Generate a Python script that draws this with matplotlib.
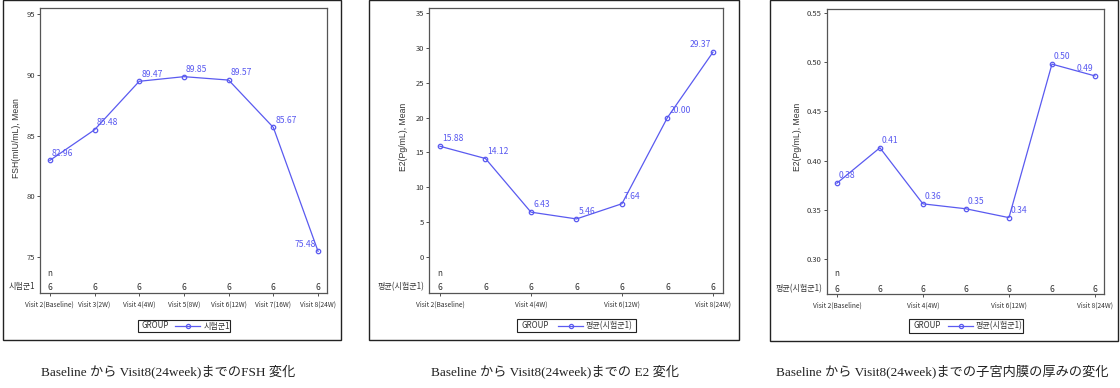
import matplotlib
matplotlib.use("Agg")
import matplotlib.pyplot as plt
import matplotlib.transforms as mtransforms
from matplotlib.lines import Line2D
from matplotlib.patches import Rectangle

W, H = 1120, 388

# ---- data ----
visits = ["Visit 2(Baseline)", "Visit 3(2W)", "Visit 4(4W)", "Visit 5(8W)",
          "Visit 6(12W)", "Visit 7(16W)", "Visit 8(24W)"]
n_counts = [6, 6, 6, 6, 6, 6, 6]
fsh_mean = [82.96, 85.48, 89.47, 89.85, 89.57, 85.67, 75.48]
e2_mean = [15.88, 14.12, 6.43, 5.46, 7.64, 20.00, 29.37]
endo_mean = [0.377, 0.413, 0.356, 0.351, 0.342, 0.498, 0.486]

fsh_ticks = [75, 80, 85, 90, 95]
e2_ticks = [0, 5, 10, 15, 20, 25, 30, 35]
endo_ticks = [0.30, 0.35, 0.40, 0.45, 0.50, 0.55]

captions = ["Baseline から Visit8(24week)までのFSH 変化",
            "Baseline から Visit8(24week)までの E2 変化",
            "Baseline から Visit8(24week)までの子宮内膜の厚みの変化"]

BLUE = "#5a5af0"
DARK = "#333333"
NARROW = ["Liberation Sans Narrow", "Noto Sans CJK KR", "DejaVu Sans"]
SANS = ["Liberation Sans", "Noto Sans CJK KR", "DejaVu Sans"]
SERIF = ["Liberation Serif", "Noto Sans CJK JP", "DejaVu Sans"]


def fx(x):
    return x / W


def fy(y):
    return 1 - y / H


# layout in pixels: outer frame, plot area, labels, legend
panels = [
    dict(values=fsh_mean, yticks=fsh_ticks, ylim=(72.05, 95.5),
         ytickfmt="{:.0f}", ylabel="FSH(mIU/mL), Mean", row="시험군1",
         xshow=[0, 1, 2, 3, 4, 5, 6], legend="시험군1",
         outer=(3, 0, 341, 340), area=(40, 8, 327, 293), xlim=(-0.22, 6.2),
         n_row=287, ylab_xy=(17, 138), leg=(138, 320, 230, 332, 141, 175, 200, 204),
         cap_x=168),
    dict(values=e2_mean, yticks=e2_ticks, ylim=(-5.16, 35.7),
         ytickfmt="{:.0f}", ylabel="E2(Pg/mL), Mean", row="평균(시험군1)",
         xshow=[0, 2, 4, 6], legend="평균(시험군1)",
         outer=(369, 0, 739, 340), area=(429, 8, 723, 293), xlim=(-0.24, 6.22),
         n_row=287, ylab_xy=(404, 137), leg=(517, 319, 636, 332, 521, 558, 583, 586),
         cap_x=555),
    dict(values=endo_mean, yticks=endo_ticks, ylim=(0.2644, 0.554),
         ytickfmt="{:.2f}", ylabel="E2(Pg/mL), Mean", row="평균(시험군1)",
         xshow=[0, 2, 4, 6], legend="평균(시험군1)",
         outer=(770, 0, 1118, 341), area=(827, 9, 1104, 294), xlim=(-0.23, 6.21),
         n_row=289, ylab_xy=(797, 137), leg=(909, 319, 1023, 333, 913, 948, 973, 976),
         cap_x=942),
]

fig = plt.figure(figsize=(W / 100, H / 100), dpi=100)
fig.patch.set_facecolor("white")

for i, p in enumerate(panels):
    # outer frame of each graph
    x0, y0, x1, y1 = p["outer"]
    fig.add_artist(Rectangle((fx(x0), fy(y1)), fx(x1 - x0), (y1 - y0) / H,
                             transform=fig.transFigure, fill=False,
                             edgecolor="#222222", lw=1.0))

    a0, b0, a1, b1 = p["area"]
    ax = fig.add_axes([fx(a0), fy(b1), fx(a1 - a0), (b1 - b0) / H])
    x = list(range(len(visits)))
    ax.plot(x, p["values"], color=BLUE, lw=0.9, marker="o", ms=3.2,
            mfc="none", mec=BLUE, mew=0.9)

    last = len(p["values"]) - 1
    for k, v in enumerate(p["values"]):
        if k == last:
            off, ha = (-1.5, 2), "right"
        else:
            off, ha = (1.5, 2), "left"
        ax.annotate("{:.2f}".format(v), (k, v), xytext=off,
                    textcoords="offset points", ha=ha, va="bottom",
                    color=BLUE, fontsize=6.2, family=NARROW)

    ax.set_xlim(*p["xlim"])
    ax.set_ylim(*p["ylim"])
    ax.set_yticks(p["yticks"])
    ax.set_yticklabels([p["ytickfmt"].format(t) for t in p["yticks"]],
                       family=NARROW, fontsize=5.5, color=DARK)
    ax.set_xticks(p["xshow"])
    ax.set_xticklabels([visits[k] for k in p["xshow"]],
                       family=NARROW, fontsize=4.8, color=DARK)
    ax.tick_params(axis="y", length=2.2, width=0.6, pad=1.5, colors=DARK)
    ax.tick_params(axis="x", length=2.2, width=0.6, pad=3, colors=DARK)
    for s in ax.spines.values():
        s.set_color("#555555")
        s.set_linewidth(0.9)

    # n row inside the plot area
    trans = mtransforms.blended_transform_factory(ax.transData, ax.transAxes)
    n_y = (b1 - p["n_row"]) / (b1 - b0)
    ax.text(0, (b1 - 273) / (b1 - b0), "n", transform=trans, ha="center",
            va="center", fontsize=5.8, family=NARROW, color=DARK)
    for k, c in enumerate(n_counts):
        ax.text(k, n_y, str(c), transform=trans, ha="center", va="center",
                fontsize=6.2, family=NARROW, color=DARK)
    ax.text(-0.015, n_y, p["row"], transform=ax.transAxes, ha="right",
            va="center", fontsize=5.8, family=NARROW, color=DARK)

    # y axis label
    lx, ly = p["ylab_xy"]
    fig.text(fx(lx), fy(ly), p["ylabel"], rotation=90, ha="center",
             va="center", fontsize=6.2, family=SANS, color=DARK)

    # legend box
    g0, h0, g1, h1, tx, l0, l1, lt = p["leg"]
    fig.add_artist(Rectangle((fx(g0), fy(h1)), fx(g1 - g0), (h1 - h0) / H,
                             transform=fig.transFigure, fill=False,
                             edgecolor="#222222", lw=0.8))
    ym = fy((h0 + h1) / 2)
    fig.text(fx(tx), ym, "GROUP", ha="left", va="center", fontsize=5.8,
             family=NARROW, color=DARK)
    fig.add_artist(Line2D([fx(l0), fx(l1)], [ym, ym], transform=fig.transFigure,
                          color=BLUE, lw=0.9))
    fig.add_artist(Line2D([fx((l0 + l1) / 2)], [ym], transform=fig.transFigure,
                          color=BLUE, marker="o", ms=3.0, mfc="none", mew=0.9))
    fig.text(fx(lt), ym, p["legend"], ha="left", va="center", fontsize=5.8,
             family=NARROW, color=DARK)

    # caption under each graph
    fig.text(fx(p["cap_x"]), fy(371), captions[i], ha="center", va="center",
             fontsize=9.5, family=SERIF, color="#222222")

fig.savefig("out.png", dpi=100, facecolor="white")
